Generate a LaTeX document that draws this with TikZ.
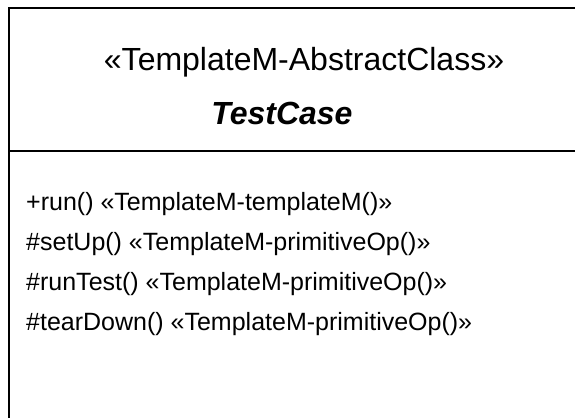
\documentclass[tikz,border=0pt]{standalone}
\usepackage{fontspec}
\setmainfont{Liberation Sans}
\usetikzlibrary{positioning}

\begin{document}
\begin{tikzpicture}[x=1pt, y=-1pt,
    head/.style={font=\fontsize{32}{36}\selectfont, anchor=base, inner sep=0pt},
    op/.style={font=\fontsize{25}{30}\selectfont, anchor=base west, inner sep=0pt}]
            \useasboundingbox (0,0) rectangle (575,418);
            \coordinate (tl) at (9,8); \coordinate (tr) at (575,8);
            \coordinate (ml) at (9,151); \coordinate (mr) at (575,151);
            \coordinate (bl) at (9,418);
            \draw[line width=1.5pt] (tr)--(tl)--(bl); \draw[line width=1.5pt] (ml)--(mr);
            \node[head] (stereo) at (304,70) {«TemplateM-AbstractClass»};
            \node[head, font=\fontsize{32}{36}\selectfont\bfseries\itshape] (name) at (282,124) {TestCase};
            \foreach \t [count=\i] in {+run() «TemplateM-templateM()»,
                \#setUp() «TemplateM-primitiveOp()»,
                \#runTest() «TemplateM-primitiveOp()»,
                \#tearDown() «TemplateM-primitiveOp()»}
                \node[op] (op\i) at (26,170+40*\i) {\t};
        \end{tikzpicture}
\end{document}
